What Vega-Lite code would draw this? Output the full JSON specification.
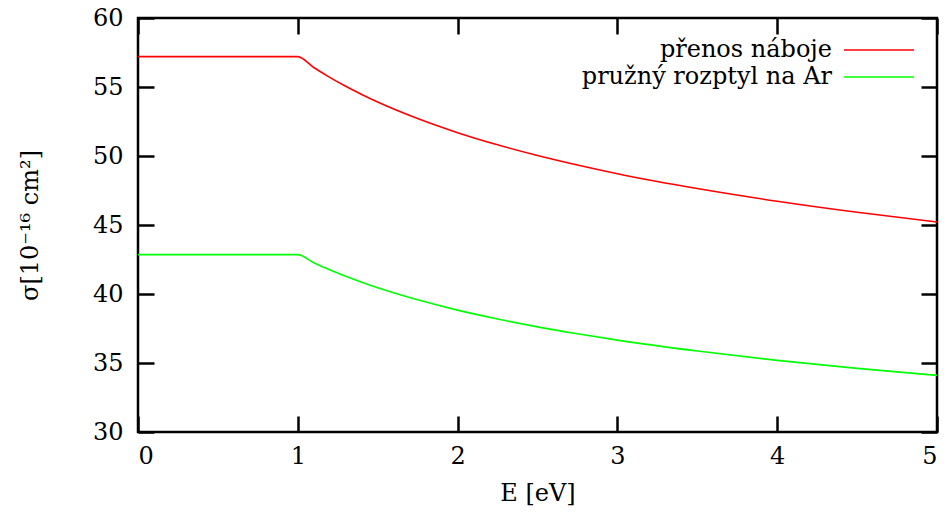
{
  "$schema": "https://vega.github.io/schema/vega-lite/v6.json",
  "width": 799,
  "height": 414,
  "autosize": "none",
  "padding": {"left": 138, "top": 18, "right": 12, "bottom": 83},
  "background": "white",
  "config": {
    "view": {"stroke": "black", "strokeWidth": 2.5},
    "font": "DejaVu Serif",
    "axis": {
      "domain": false,
      "tickColor": "black",
      "tickWidth": 2.5,
      "grid": false,
      "labelFont": "DejaVu Serif",
      "labelFontSize": 24,
      "labelColor": "black",
      "titleFont": "DejaVu Serif",
      "titleFontSize": 24,
      "titleFontWeight": "normal",
      "titleColor": "black"
    },
    "legend": {
      "labelFont": "DejaVu Serif",
      "labelFontSize": 24,
      "labelColor": "black",
      "labelLimit": 0
    }
  },
  "data": {
    "values": [
      {"E": 0, "sigma": 57.2, "proces": "přenos náboje"},
      {"E": 1, "sigma": 57.2, "proces": "přenos náboje"},
      {"E": 1.1, "sigma": 56.41, "proces": "přenos náboje"},
      {"E": 1.2, "sigma": 55.70, "proces": "přenos náboje"},
      {"E": 1.3, "sigma": 55.05, "proces": "přenos náboje"},
      {"E": 1.4, "sigma": 54.46, "proces": "přenos náboje"},
      {"E": 1.5, "sigma": 53.91, "proces": "přenos náboje"},
      {"E": 1.75, "sigma": 52.71, "proces": "přenos náboje"},
      {"E": 2, "sigma": 51.69, "proces": "přenos náboje"},
      {"E": 2.25, "sigma": 50.81, "proces": "přenos náboje"},
      {"E": 2.5, "sigma": 50.04, "proces": "přenos náboje"},
      {"E": 2.75, "sigma": 49.35, "proces": "přenos náboje"},
      {"E": 3, "sigma": 48.72, "proces": "přenos náboje"},
      {"E": 3.5, "sigma": 47.64, "proces": "přenos náboje"},
      {"E": 4, "sigma": 46.72, "proces": "přenos náboje"},
      {"E": 4.5, "sigma": 45.92, "proces": "přenos náboje"},
      {"E": 5, "sigma": 45.22, "proces": "přenos náboje"},
      {"E": 0, "sigma": 42.85, "proces": "pružný rozptyl na Ar"},
      {"E": 1, "sigma": 42.85, "proces": "pružný rozptyl na Ar"},
      {"E": 1.1, "sigma": 42.27, "proces": "pružný rozptyl na Ar"},
      {"E": 1.2, "sigma": 41.75, "proces": "pružný rozptyl na Ar"},
      {"E": 1.3, "sigma": 41.28, "proces": "pružný rozptyl na Ar"},
      {"E": 1.4, "sigma": 40.85, "proces": "pružný rozptyl na Ar"},
      {"E": 1.5, "sigma": 40.45, "proces": "pružný rozptyl na Ar"},
      {"E": 1.75, "sigma": 39.58, "proces": "pružný rozptyl na Ar"},
      {"E": 2, "sigma": 38.83, "proces": "pružný rozptyl na Ar"},
      {"E": 2.25, "sigma": 38.19, "proces": "pružný rozptyl na Ar"},
      {"E": 2.5, "sigma": 37.62, "proces": "pružný rozptyl na Ar"},
      {"E": 2.75, "sigma": 37.12, "proces": "pružný rozptyl na Ar"},
      {"E": 3, "sigma": 36.66, "proces": "pružný rozptyl na Ar"},
      {"E": 3.5, "sigma": 35.87, "proces": "pružný rozptyl na Ar"},
      {"E": 4, "sigma": 35.19, "proces": "pružný rozptyl na Ar"},
      {"E": 4.5, "sigma": 34.61, "proces": "pružný rozptyl na Ar"},
      {"E": 5, "sigma": 34.10, "proces": "pružný rozptyl na Ar"}
    ]
  },
  "layer": [
    {
      "mark": {"type": "line", "interpolate": "monotone", "strokeWidth": 1.6},
      "encoding": {
        "x": {
          "field": "E", "type": "quantitative",
          "scale": {"domain": [0, 5], "nice": false},
          "axis": {"orient": "bottom", "values": [0, 1, 2, 3, 4, 5], "format": "d", "ticks": false, "labelPadding": 12,
                   "title": "E [eV]", "titleX": 399.5, "titleY": 61, "titleBaseline": "middle", "titleAlign": "center", "titleAnchor": null}
        },
        "y": {
          "field": "sigma", "type": "quantitative",
          "scale": {"domain": [30, 60], "nice": false, "zero": false},
          "axis": {"orient": "left", "values": [30, 35, 40, 45, 50, 55, 60], "format": "d", "ticks": false, "labelPadding": 15,
                   "title": "σ[10⁻¹⁶ cm²]", "titleX": -108, "titleY": 207, "titleAngle": -90, "titleBaseline": "middle", "titleAlign": "center"}
        },
        "color": {
          "field": "proces", "type": "nominal",
          "scale": {"domain": ["přenos náboje", "pružný rozptyl na Ar"], "range": ["#ff0000", "#00ff00"]},
          "legend": {
            "title": null,
            "orient": "none",
            "legendX": 729,
            "legendY": 20,
            "padding": 0,
            "symbolType": "M-3.5,0H3.5",
            "symbolSize": 400,
            "symbolStrokeWidth": 1.6,
            "labelAlign": "right",
            "labelOffset": -59,
            "rowPadding": 3
          }
        }
      }
    },
    {
      "mark": {"type": "line", "opacity": 0},
      "encoding": {
        "x": {"field": "E", "type": "quantitative",
              "axis": {"orient": "bottom", "offset": -16, "tickSize": 16, "values": [0, 1, 2, 3, 4, 5], "labels": false, "title": null}},
        "y": {"field": "sigma", "type": "quantitative",
              "axis": {"orient": "left", "offset": -16, "tickSize": 16, "values": [30, 35, 40, 45, 50, 55, 60], "labels": false, "title": null}},
        "detail": {"field": "proces"}
      }
    },
    {
      "mark": {"type": "line", "opacity": 0},
      "encoding": {
        "x": {"field": "E", "type": "quantitative",
              "axis": {"orient": "top", "offset": -16, "tickSize": 16, "values": [0, 1, 2, 3, 4, 5], "labels": false, "title": null}},
        "y": {"field": "sigma", "type": "quantitative",
              "axis": {"orient": "right", "offset": -16, "tickSize": 16, "values": [30, 35, 40, 45, 50, 55, 60], "labels": false, "title": null}},
        "detail": {"field": "proces"}
      }
    }
  ],
  "resolve": {"axis": {"x": "independent", "y": "independent"}}
}
